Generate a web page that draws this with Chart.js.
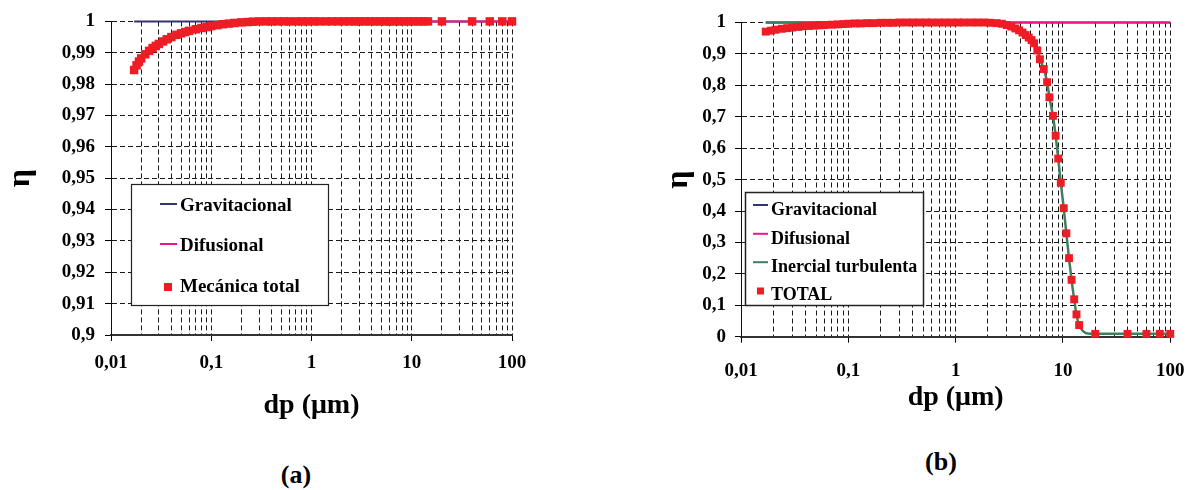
<!DOCTYPE html>
<html>
<head>
<meta charset="utf-8">
<script src="https://cdn.jsdelivr.net/npm/chart.js@4.4.1/dist/chart.umd.min.js"></script>
<style>
  html, body { margin: 0; padding: 0; background: #fff; width: 1201px; height: 490px; overflow: hidden; }
  .panel { position: absolute; top: 0; }
  #chartA { left: 0; }
  #chartB { left: 600px; }
  .caption { position: absolute; font: bold 26px 'Liberation Serif', 'Times New Roman', serif; color: #000;
             transform: translate(-50%, -50%); white-space: nowrap; }
</style>
</head>
<body>
<canvas id="chartA" class="panel" width="600" height="440"></canvas>
<canvas id="chartB" class="panel" width="601" height="440"></canvas>
<div class="caption" style="left:296px; top:475px;">(a)</div>
<div class="caption" style="left:941px; top:462px;">(b)</div>
<script>
// ---- axis ticks ----
const xTickValues = [0.01, 0.1, 1, 10, 100];
const xTickLabels = ['0,01', '0,1', '1', '10', '100'];

const yTickValuesA = [0.9, 0.91, 0.92, 0.93, 0.94, 0.95, 0.96, 0.97, 0.98, 0.99, 1];
const yTickLabelsA = ['0,9', '0,91', '0,92', '0,93', '0,94', '0,95', '0,96', '0,97', '0,98', '0,99', '1'];

const yTickValuesB = [0, 0.1, 0.2, 0.3, 0.4, 0.5, 0.6, 0.7, 0.8, 0.9, 1];
const yTickLabelsB = ['0', '0,1', '0,2', '0,3', '0,4', '0,5', '0,6', '0,7', '0,8', '0,9', '1'];

// ---- panel (a): mechanical collection efficiency ----
const dpGravA = [0.017, 100];
const etaGravA = [1, 1];

const dpDifA = [0.2, 100];
const etaDifA = [1, 1];

const dpTotalA = [0.017, 0.018, 0.019, 0.02, 0.022, 0.024, 0.026, 0.028, 0.03, 0.033, 0.036, 0.04, 0.045, 0.05,
  0.055, 0.06, 0.07, 0.08, 0.09, 0.1, 0.115, 0.13, 0.15, 0.17, 0.2, 0.23, 0.26,
  0.3, 0.35, 0.4, 0.46, 0.53, 0.6, 0.7, 0.8, 0.92, 1.05, 1.2, 1.4, 1.6, 1.85, 2.1, 2.4, 2.7, 3, 3.4, 3.8,
  4.3, 4.8, 5.4, 6, 6.7, 7.5, 8.4, 9.4, 10.5, 11.7, 13, 14.5, 20, 40, 60, 80, 100];
const etaTotalA = [0.9845, 0.9860, 0.9872, 0.9882, 0.9895, 0.9906, 0.9915, 0.9922, 0.9928, 0.9936, 0.9943, 0.9950, 0.9957, 0.9962,
  0.9966, 0.9970, 0.9975, 0.9979, 0.9982, 0.9985, 0.9988, 0.9991, 0.9993, 0.9995, 0.9997, 0.9998, 0.9999,
  1, 1, 1, 1, 1, 1, 1, 1, 1, 1, 1, 1, 1, 1, 1, 1, 1, 1, 1, 1,
  1, 1, 1, 1, 1, 1, 1, 1, 1, 1, 1, 1, 1, 1, 1, 1, 1];

// ---- panel (b): total efficiency with turbulent inertial deposition ----
const dpGravB = [0.017, 100];
const etaGravB = [1, 1];

const dpDifB = [0.2, 100];
const etaDifB = [1, 1];

const dpInerB = [0.017, 0.1, 1, 2, 2.7, 3.3, 3.9, 4.5, 5.1, 5.77, 6.10, 6.63, 7.12, 7.48, 8.07,
  8.55, 9.04, 9.55, 10.17, 10.76, 11.39, 12.03, 12.73, 13.37, 14.16, 15.5, 17, 20, 100];
const etaInerB = [1, 1, 1, 1, 0.996, 0.987, 0.975, 0.960, 0.944, 0.911, 0.883, 0.852, 0.810, 0.762, 0.703,
  0.640, 0.567, 0.490, 0.409, 0.329, 0.250, 0.181, 0.119, 0.071, 0.037, 0.017, 0.010, 0.009, 0.009];

const dpTotalB = [0.017, 0.019, 0.021, 0.024, 0.027, 0.03, 0.034, 0.038, 0.043, 0.048, 0.054, 0.06, 0.07, 0.08, 0.09,
  0.1, 0.115, 0.13, 0.15, 0.17, 0.2, 0.23, 0.26, 0.3, 0.35, 0.4, 0.46, 0.53, 0.6, 0.7, 0.8, 0.92, 1.05, 1.2, 1.4,
  1.6, 1.85, 2.1, 2.4, 2.7, 3.0, 3.3, 3.6, 3.9, 4.2, 4.5, 4.8, 5.1, 5.38, 5.77, 6.10, 6.63, 7.12, 7.48, 8.07,
  8.55, 9.04, 9.55, 10.17, 10.76, 11.39, 12.03, 12.73, 13.37, 14.16, 20, 40, 60, 80, 100];
const etaTotalB = [0.971, 0.974, 0.977, 0.980, 0.982, 0.984, 0.986, 0.988, 0.989, 0.990, 0.991, 0.992, 0.993, 0.994, 0.995,
  0.996, 0.997, 0.997, 0.998, 0.998, 0.999, 0.999, 0.999, 1, 1, 1, 1, 1, 1, 1, 1, 1, 1, 1, 1,
  1, 1, 0.999, 0.998, 0.996, 0.992, 0.987, 0.981, 0.975, 0.968, 0.960, 0.952, 0.944, 0.934, 0.911, 0.883, 0.852, 0.810, 0.762, 0.703,
  0.640, 0.567, 0.490, 0.409, 0.329, 0.250, 0.181, 0.119, 0.071, 0.037, 0.009, 0.009, 0.009, 0.009, 0.009];

// ---- styling ----
const SERIF = "'Liberation Serif', 'Times New Roman', serif";
const NAVY = '#34356f';
const MAGENTA = '#f0148c';
const GREEN = '#3f7f5c';
const RED = '#ee1d25';

const pts = (xs, ys) => xs.map((x, i) => ({ x: x, y: ys[i] }));
const isDecade = v => Math.abs(Math.log10(v) - Math.round(Math.log10(v))) < 1e-6;

// gridline positions of a log axis: 1..9 in every decade
function logGrid(min, max) {
  const out = [];
  for (let d = min; d < max * 0.999; d *= 10) {
    for (let k = 1; k <= 9; k++) out.push(+(k * d).toPrecision(6));
  }
  out.push(max);
  return out;
}

function lineSet(label, xs, ys, color, order, width) {
  return { label, data: pts(xs, ys), showLine: true, borderColor: color, backgroundColor: color,
           borderWidth: width, pointRadius: 0, fill: false, order, clip: false,
           cubicInterpolationMode: 'monotone' };
}
function markerSet(label, xs, ys, color, order, radius) {
  return { label, data: pts(xs, ys), showLine: false, pointStyle: 'rect', pointRadius: radius,
           backgroundColor: color, pointBackgroundColor: color, borderWidth: 0, borderColor: color,
           order, clip: false, isMarker: true };
}

// legend box drawn inside the plot, entries taken from the datasets
function boxLegend(cfg) {
  return {
    id: 'boxLegend',
    afterDraw(chart) {
      const ctx = chart.ctx;
      ctx.save();
      ctx.fillStyle = '#fff';
      ctx.fillRect(cfg.left, cfg.top, cfg.width, cfg.height);
      ctx.strokeStyle = '#222';
      ctx.lineWidth = cfg.border;
      ctx.strokeRect(cfg.left + 0.5, cfg.top + 0.5, cfg.width, cfg.height);
      ctx.font = cfg.font;
      ctx.textBaseline = 'middle';
      chart.data.datasets.forEach((ds, i) => {
        const y = cfg.rows[i];
        if (ds.isMarker) {
          ctx.fillStyle = ds.backgroundColor;
          const s = cfg.markerSize;
          ctx.fillRect(cfg.markerX - s / 2, y + cfg.markerDy - s / 2, s, s);
        } else {
          ctx.strokeStyle = ds.borderColor;
          ctx.lineWidth = 2;
          ctx.beginPath();
          ctx.moveTo(cfg.sampleX1, y + cfg.sampleDy);
          ctx.lineTo(cfg.sampleX2, y + cfg.sampleDy);
          ctx.stroke();
        }
        ctx.fillStyle = '#000';
        ctx.fillText(ds.label, cfg.textX, y);
      });
      ctx.restore();
    }
  };
}

function makeOptions(p) {
  return {
    responsive: false,
    animation: false,
    devicePixelRatio: 1,
    layout: { padding: p.padding },
    plugins: { legend: { display: false }, tooltip: { enabled: false }, title: { display: false } },
    scales: {
      x: {
        type: 'logarithmic',
        min: 0.01, max: 100,
        afterBuildTicks: s => { s.ticks = logGrid(0.01, 100).map(v => ({ value: v })); },
        afterFit: s => { s.height = p.xAxisHeight; },
        ticks: {
          autoSkip: false, maxRotation: 0, minRotation: 0, padding: p.xTickPad, color: '#000',
          font: { family: SERIF, weight: 'bold', size: 19 },
          callback: v => {
            const i = xTickValues.findIndex(t => Math.abs(t - v) / t < 1e-6);
            return i >= 0 ? xTickLabels[i] : '';
          }
        },
        grid: {
          color: '#1a1a1a', lineWidth: 1, tickLength: 6, tickWidth: 1, tickBorderDash: [],
          tickColor: c => (c.tick && isDecade(c.tick.value)) ? '#000' : 'rgba(0,0,0,0)'
        },
        border: { display: true, color: '#333', width: 2, dash: [5, 3] },
        title: {
          display: true, text: 'dp (μm)', color: '#000', padding: { top: 0, bottom: 0 },
          font: { family: SERIF, weight: 'bold', size: 28 }
        }
      },
      y: {
        type: 'linear',
        min: p.yMin, max: p.yMax,
        afterBuildTicks: s => { s.ticks = p.yTickValues.map(v => ({ value: v })); },
        afterFit: s => { s.width = p.yAxisWidth; },
        ticks: {
          autoSkip: false, padding: p.yTickPad, color: '#000',
          font: { family: SERIF, weight: 'bold', size: 19 },
          callback: (v, i) => p.yTickLabels[i]
        },
        grid: { color: '#1a1a1a', lineWidth: 1, tickLength: 6, tickColor: '#000', tickBorderDash: [] },
        border: { display: true, color: '#111', width: 1, dash: [5, 3] },
        title: {
          display: true, text: 'η', color: '#000', padding: { top: p.yTitlePad, bottom: 0 },
          font: { family: SERIF, weight: 'bold', size: 32 }
        }
      }
    }
  };
}

// panel (a)
new Chart(document.getElementById('chartA'), {
  type: 'scatter',
  data: {
    datasets: [
      lineSet('Gravitacional', dpGravA, etaGravA, NAVY, 2, 2),
      lineSet('Difusional', dpDifA, etaDifA, MAGENTA, 1, 2),
      markerSet('Mecánica total', dpTotalA, etaTotalA, RED, 0, 6.0)
    ]
  },
  options: makeOptions({
    padding: { top: 20, left: 0, right: 88, bottom: 17 },
    xAxisHeight: 88, yAxisWidth: 111, xTickPad: 11, yTickPad: 10, yTitlePad: 2,
    yMin: 0.9, yMax: 1, yTickValues: yTickValuesA, yTickLabels: yTickLabelsA
  }),
  plugins: [boxLegend({
    left: 131, top: 184, width: 197, height: 121, border: 1.2,
    rows: [206, 246, 287], font: 'bold 19px ' + SERIF,
    textX: 180, sampleX1: 160, sampleX2: 177, sampleDy: -2,
    markerX: 168, markerSize: 8, markerDy: 0
  })]
});

// panel (b)
new Chart(document.getElementById('chartB'), {
  type: 'scatter',
  data: {
    datasets: [
      lineSet('Gravitacional', dpGravB, etaGravB, NAVY, 3, 2),
      lineSet('Difusional', dpDifB, etaDifB, MAGENTA, 2, 2),
      lineSet('Inercial turbulenta', dpInerB, etaInerB, GREEN, 1, 2.5),
      markerSet('TOTAL', dpTotalB, etaTotalB, RED, 0, 5.6)
    ]
  },
  options: makeOptions({
    padding: { top: 22.5, left: 0, right: 22, bottom: 25.8 },
    xAxisHeight: 77.5, yAxisWidth: 141, xTickPad: 16.5, yTickPad: 9, yTitlePad: 60,
    yMin: 0, yMax: 1, yTickValues: yTickValuesB, yTickLabels: yTickLabelsB
  }),
  plugins: [boxLegend({
    left: 145, top: 192, width: 178, height: 113, border: 1.5,
    rows: [210.5, 239.3, 267.7, 295], font: 'bold 18px ' + SERIF,
    textX: 171, sampleX1: 153, sampleX2: 168, sampleDy: -5.5,
    markerX: 160.5, markerSize: 7, markerDy: -4
  })]
});
</script>
</body>
</html>
